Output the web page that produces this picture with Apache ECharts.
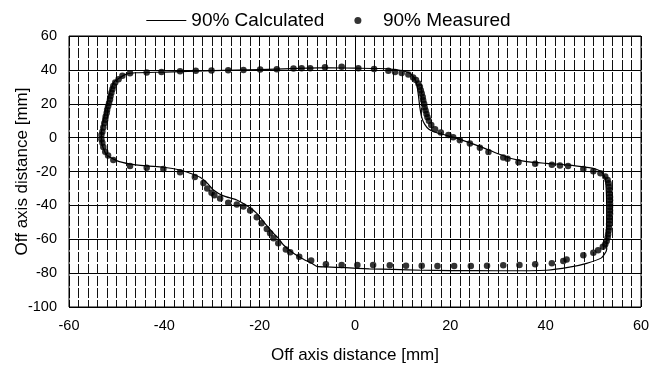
<!DOCTYPE html>
<html>
<head>
<meta charset="utf-8">
<script src="https://cdn.jsdelivr.net/npm/echarts@6/dist/echarts.min.js"></script>
<style>html,body{margin:0;padding:0;background:#fff;}#c{width:657px;height:368px;}</style>
</head>
<body>
<div id="c"></div>
<script>
var seriesNames = ['90% Calculated', '90% Measured'];
var xTicks = [-60, -40, -20, 0, 20, 40, 60];
var yTicks = [-100, -80, -60, -40, -20, 0, 20, 40, 60];

var calculated = [
  [-49.5,35],[-48,37.5],[-46,38.3],[-40,38.7],[-30,39.5],[-20,40.2],[-10,41],[-5,41.2],[0,41],[5,40.8],
  [8,40.3],[10,39.5],[11.5,38],[12.5,35],[13,31],[13.3,25],[13.6,18],[14,12],[14.6,8],[15.5,5],
  [17,3],[19,1.5],[22,-1],[26,-5],[30,-9.5],[33,-12.5],[36,-14.2],[40,-15.2],[45,-16.2],[48,-17.3],
  [50.5,-18.5],[51.8,-20.5],[52.5,-24],[52.7,-30],[52.8,-40],[52.8,-50],[52.8,-58],[52.8,-66],[51.7,-71],[48.6,-74.2],
  [45,-76.5],[40.2,-78.3],[30,-78.6],[20,-78.5],[14,-78.3],[8,-77.8],[3,-77.5],[-2,-76.8],[-6,-76.3],[-8,-76],
  [-9.1,-74.2],[-11,-71.5],[-12.9,-68.3],[-15,-63.4],[-16.1,-59.4],[-17.1,-56.5],[-18.9,-50.6],[-20.6,-44.7],[-22.5,-40.5],[-24.8,-36.8],
  [-27.6,-34.4],[-29.7,-30.9],[-31.1,-26.6],[-32.5,-23.4],[-34.6,-21],[-36.7,-19.1],[-40.2,-17.5],[-43.7,-16.7],[-47.2,-15.6],[-50,-13.6],
  [-52.1,-10.2],[-52.8,-6.3],[-53.2,-2],[-53.2,3],[-52.8,10],[-52.2,18],[-51.6,25],[-51,30],[-50.5,33],[-49.5,35]
];

var measured = [
  [-48.8,36.5],[-47.2,38.0],[-43.7,38.5],[-40.6,38.8],[-36.7,39.2],[-33.4,39.5],[-30.1,39.7],[-26.6,39.8],[-23.4,40.0],[-19.9,40.2],
  [-16.4,40.4],[-12.9,40.8],[-11.2,41.0],[-9.4,41.0],[-6.3,41.5],[-2.8,41.8],[0.7,41.0],[4.0,40.5],[7.0,39.5],[8.4,38.8],
  [9.8,38.2],[11.2,37.2],[12.2,35.5],[12.8,34],[13.3,32],[13.6,30],[13.8,28],[14.0,26],[14.2,24],[14.3,22],
  [14.5,20],[14.6,18],[14.8,16],[15.0,14],[15.2,12],[15.5,10],[16.0,7.5],[16.8,5],[18.0,3],[19.6,1.5],
  [20.6,0.2],[22.0,-1.5],[24.1,-3.4],[26.2,-6.0],[28,-8.5],[31.1,-11.8],[32,-12.5],[34.3,-14.5],[37.8,-15.4],[41.3,-16.0],
  [43.0,-16.5],[44.7,-16.7],[47.9,-18.5],[50.0,-19.8],[51.5,-21],[52.5,-23],[53,-25],[53.2,-27],[53.3,-29],[53.4,-31],
  [53.4,-33],[53.5,-35],[53.5,-37],[53.5,-39],[53.5,-41],[53.5,-43],[53.5,-45],[53.4,-47],[53.4,-49],[53.3,-51],
  [53.3,-53],[53.2,-55],[53.1,-57],[53,-59],[52.8,-61],[52.5,-63],[52,-64.5],[51,-66.5],[50,-68],[47.9,-69.5],
  [44.4,-72.0],[43.7,-72.8],[41.3,-74.2],[37.8,-74.8],[34.5,-75.2],[31.1,-75.4],[27.7,-75.6],[24.3,-75.8],[20.8,-75.8],[17.3,-75.8],
  [14.0,-75.6],[10.7,-75.6],[7.3,-75.4],[3.8,-75.2],[0.5,-75.2],[-2.8,-75.2],[-6.1,-74.8],[-9.2,-72.6],[-11.7,-70.3],[-13.6,-67.7],
  [-14.5,-66],[-16.1,-62.4],[-17.1,-59.4],[-17.8,-56.5],[-18.5,-54],[-19.6,-50.6],[-20.6,-47],[-22.0,-43],[-23.4,-40.6],[-24.8,-39.5],
  [-26.6,-38.5],[-28.3,-36],[-29.5,-34],[-30.1,-32.5],[-31,-30],[-31.8,-26.8],[-33.6,-23.2],[-36.7,-20.5],[-40.2,-18.5],[-43.7,-17.8],
  [-47.2,-16.7],[-50.7,-13.2],[-51.8,-10.5],[-52.4,-8.3],[-52.8,-5.5],[-53,-3],[-53.2,-1],[-53.2,1.5],[-53,3.5],[-52.8,6],
  [-52.6,8.5],[-52.4,10.5],[-52.3,12.5],[-52.1,14.5],[-52,16.5],[-51.8,18.5],[-51.6,20.5],[-51.4,22.5],[-51.3,24.5],[-51.1,26.5],
  [-50.9,28.5],[-50.7,30.5],[-50.3,32.5],[-49.6,34.5]
];

var FONT = 'Liberation Sans, Arial, sans-serif';
var chart = echarts.init(document.getElementById('c'), null, {renderer: 'canvas'});
chart.setOption({
  animation: false,
  backgroundColor: '#fff',
  textStyle: {fontFamily: FONT, color: '#000'},
  legend: {
    top: 6, left: 'center',
    itemWidth: 40, itemHeight: 7, itemGap: 30,
    textStyle: {fontFamily: FONT, fontSize: 19, color: '#000'},
    data: [
      {name: seriesNames[0], icon: 'path://M0,0 L40,0 L40,1.2 L0,1.2 Z'},
      {name: seriesNames[1], icon: 'circle'}
    ]
  },
  grid: {left: 69, right: 16, top: 36, bottom: 61, show: true, borderColor: '#000', borderWidth: 1,
         containLabel: false, outerBoundsMode: 'none'},
  xAxis: {
    type: 'value', min: xTicks[0], max: xTicks[xTicks.length - 1], interval: 20,
    name: 'Off axis distance [mm]', nameLocation: 'middle', nameGap: 40, nameMoveOverlap: false,
    nameTextStyle: {fontFamily: FONT, fontSize: 17, color: '#000'},
    axisLine: {lineStyle: {color: '#000', width: 1}},
    axisTick: {show: true, length: 5, lineStyle: {color: '#000'}},
    minorTick: {show: true, splitNumber: 10, length: 4, lineStyle: {color: '#000'}},
    axisLabel: {fontFamily: FONT, fontSize: 14.5, color: '#000', margin: 11},
    splitLine: {show: true, lineStyle: {color: '#000', width: 1, type: [10, 2]}},
    minorSplitLine: {show: true, lineStyle: {color: '#111', width: 1, type: [10, 2]}}
  },
  yAxis: {
    type: 'value', min: yTicks[0], max: yTicks[yTicks.length - 1], interval: 20,
    name: 'Off axis distance [mm]', nameLocation: 'middle', nameGap: 38, nameMoveOverlap: false,
    nameTextStyle: {fontFamily: FONT, fontSize: 17, color: '#000'},
    axisLine: {show: true, lineStyle: {color: '#000', width: 1}},
    axisTick: {show: true, length: 4, lineStyle: {color: '#000'}},
    axisLabel: {fontFamily: FONT, fontSize: 14.5, color: '#000', margin: 12},
    splitLine: {show: true, lineStyle: {color: '#000', width: 1}}
  },
  series: [
    {
      name: seriesNames[0], type: 'line', data: calculated, symbol: 'none', smooth: 0.2,
      lineStyle: {color: '#000', width: 1.2}, itemStyle: {color: '#000'}, z: 3
    },
    {
      name: seriesNames[1], type: 'scatter', data: measured, symbol: 'circle', symbolSize: 6.5,
      itemStyle: {color: '#000'}, z: 4
    }
  ]
});
</script>
</body>
</html>
